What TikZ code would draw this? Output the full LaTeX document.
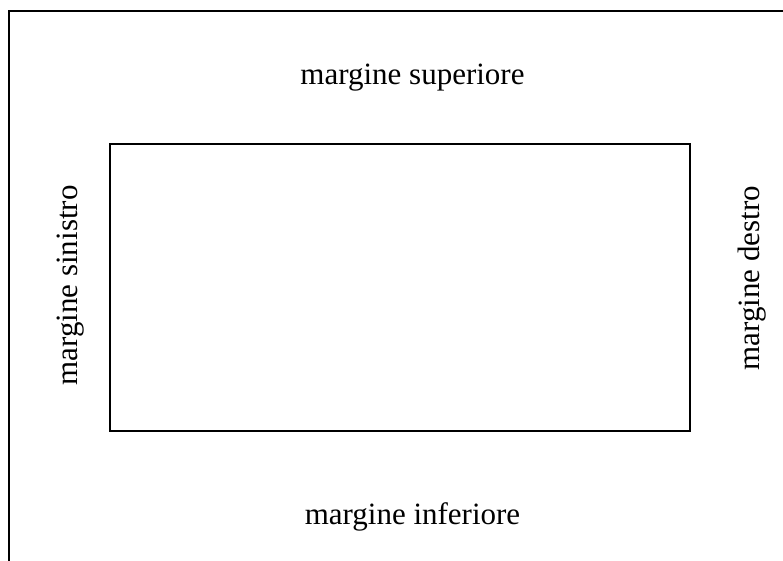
\documentclass[tikz,border=0pt]{standalone}
\usepackage{fontspec}
\setmainfont{Liberation Serif}
\begin{document}
\begin{tikzpicture}[x=1pt,y=-1pt,
  lbl/.style={font=\fontsize{31}{36}\selectfont, inner sep=0pt, anchor=base},
  frame/.style={draw=black, line width=1.2pt}]
\useasboundingbox (0,0) rectangle (783,560);
\clip (0,0) rectangle (783,560);
\draw[frame] (9,11) rectangle (800,580);
\node[frame, draw, minimum width=580pt, minimum height=287pt, inner sep=0pt] (page) at (400,287.5) {};
\node[lbl] (sup) at (412.5,84) {margine superiore};
\node[lbl] (inf) at (412.5,524) {margine inferiore};
\node[lbl, rotate=90] (sin) at (77.5,285.5) {margine sinistro};
\node[lbl, rotate=90] (des) at (759.5,278) {margine destro};
\end{tikzpicture}
\end{document}
